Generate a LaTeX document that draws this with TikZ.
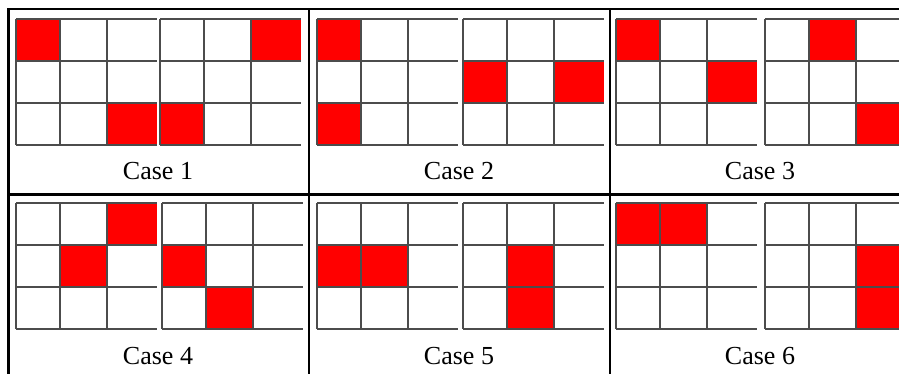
\documentclass[tikz,border=0pt]{standalone}
\usepackage{fontspec}
\setmainfont{Liberation Serif}

% one 3x3 board: #1,#2 = top left corner, #3 = red cells as row/column
\newcommand\casegrid[3]{%
  \begin{scope}[shift={(#1,#2)}]
    \foreach \r/\c in {#3} {
      \pgfmathsetmacro\xa{{0,44,91}[\c]}
      \pgfmathsetmacro\xb{{44,91,141}[\c]}
      \fill[hit] (\xa,\r*42) rectangle (\xb,\r*42+42);
    }
    \foreach \yy in {0,42,84,126}
      \draw[gridline] (0,\yy) -- (141,\yy);
    \foreach \xx in {0,44,91}
      \draw[gridline] (\xx,0) -- (\xx,126);
  \end{scope}}

\begin{document}
\begin{tikzpicture}[
  x=1pt,y=-1pt,
  rule/.style={line width=2.7pt},
  gridline/.style={black!70,line width=1.5pt},
  hit/.style={fill=red},
  caption/.style={font=\fontsize{26}{30}\selectfont,anchor=base,inner sep=0pt}
]
  \useasboundingbox (0,0) rectangle (899,374);

  % boards, top row
  \casegrid{16}{19}{0/0,2/2}
  \casegrid{160}{19}{0/2,2/0}
  \casegrid{317}{19}{0/0,2/0}
  \casegrid{463}{19}{1/0,1/2}
  \casegrid{616}{19}{0/0,1/2}
  \casegrid{765}{19}{0/1,2/2}
  % boards, bottom row
  \casegrid{16}{203}{0/2,1/1}
  \casegrid{162}{203}{1/0,2/1}
  \casegrid{317}{203}{1/0,1/1}
  \casegrid{463}{203}{1/1,2/1}
  \casegrid{616}{203}{0/0,0/1}
  \casegrid{765}{203}{1/2,2/2}

  \foreach \n/\cx/\by in {1/158/180,2/459/180,3/760/180,4/158/364,5/459/364,6/760/364}
    \node[caption] (case\n) at (\cx,\by) {Case \n};

  % table rules
  \draw[rule] (8.5,374) -- (8.5,9) -- (899,9);
  \draw[rule] (8.5,194.5) -- (899,194.5);
  \draw[rule] (309,9) -- (309,374);
  \draw[rule] (610,9) -- (610,374);
\end{tikzpicture}
\end{document}
